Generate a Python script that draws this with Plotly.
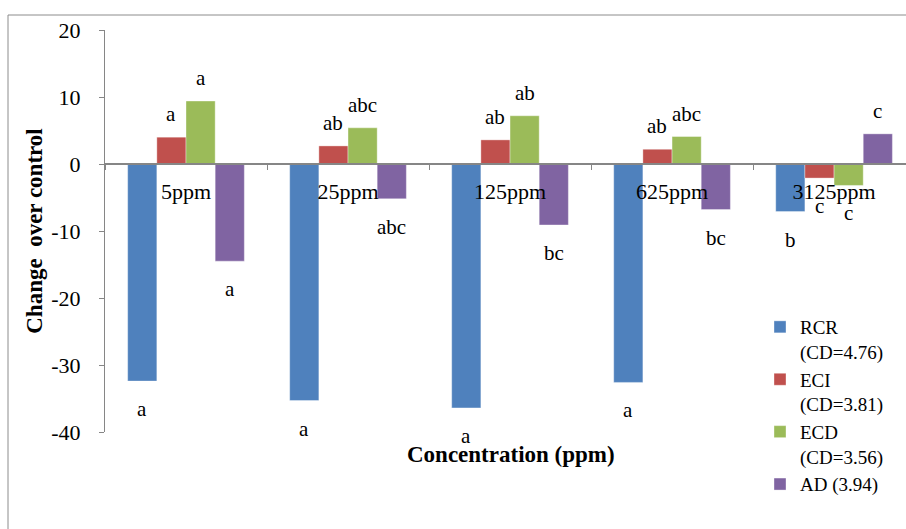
import plotly.graph_objects as go

# Concentrations tested
categories = ["5ppm", "25ppm", "125ppm", "625ppm", "3125ppm"]

# Change over control for each parameter
rcr = [-32.4, -35.3, -36.4, -32.6, -7.1]
eci = [4.0, 2.7, 3.6, 2.2, -2.1]
ecd = [9.4, 5.4, 7.2, 4.1, -3.2]
ad = [-14.5, -5.2, -9.1, -6.8, 4.5]

# Significance letters (DMRT groups)
rcr_letters = ["a", "a", "a", "a", "b"]
eci_letters = ["a", "ab", "ab", "ab", "c"]
ecd_letters = ["a", "abc", "ab", "abc", "c"]
ad_letters = ["a", "abc", "bc", "bc", "c"]

# Y axis ticks (plain hyphen minus)
y_tickvals = [20, 10, 0, -10, -20, -30, -40]
y_ticktext = ["20", "10", "0", "-10", "-20", "-30", "-40"]

series_names = ["RCR<br>(CD=4.76)", "ECI<br>(CD=3.81)", "ECD<br>(CD=3.56)", "AD (3.94)"]
series_values = [rcr, eci, ecd, ad]
series_letters = [rcr_letters, eci_letters, ecd_letters, ad_letters]
colors = ["#4F81BD", "#C0504D", "#9BBB59", "#8064A2"]

FONT = "Liberation Serif, Times New Roman, serif"
BAR_GAP = 0.28
bar_w = (1 - BAR_GAP) / len(series_values)

fig = go.Figure()
for name, vals, col in zip(series_names, series_values, colors):
    fig.add_trace(go.Bar(
        x=categories, y=vals, name=name,
        marker=dict(color=col, line=dict(color="rgba(255,255,255,0.6)", width=0.6)),
    ))

# Letters above positive bars and below negative bars
annotations = []
for j, (vals, letters) in enumerate(zip(series_values, series_letters)):
    for i, (v, t) in enumerate(zip(vals, letters)):
        annotations.append(dict(
            x=i + (j - 1.5) * bar_w, y=v, xref="x", yref="y",
            text=t, showarrow=False, yanchor="middle",
            yshift=23 if v >= 0 else -28,
            font=dict(family=FONT, size=21, color="black"),
        ))

annotations.append(dict(
    x=(511 - 105) / 801, y=(432 - 454) / 402, xref="paper", yref="paper",
    text="<b>Concentration (ppm)</b>", showarrow=False,
    xanchor="center", yanchor="middle",
    font=dict(family=FONT, size=23, color="black"),
))

fig.update_layout(
    width=906, height=529,
    margin=dict(l=105, r=0, t=30, b=97),
    paper_bgcolor="white", plot_bgcolor="white",
    barmode="group", bargap=BAR_GAP, bargroupgap=0,
    font=dict(family=FONT, size=21, color="black"),
    annotations=annotations,
    xaxis=dict(
        type="category", range=[-0.5, 4.444],
        anchor="free", position=2 / 3,
        showline=True, linecolor="#868686", linewidth=1.5,
        ticks="outside", tickson="boundaries", ticklen=5, tickcolor="#868686",
        ticklabelstandoff=8,
        showgrid=False, zeroline=False,
        tickfont=dict(family=FONT, size=22, color="black"),
    ),
    yaxis=dict(
        range=[-40, 20], tickvals=y_tickvals, ticktext=y_ticktext,
        showline=True, linecolor="#868686", linewidth=1,
        ticks="outside", ticklen=5, tickcolor="#868686",
        ticklabelstandoff=14,
        showgrid=False, zeroline=False,
        tickfont=dict(family=FONT, size=22, color="black"),
        title=dict(text="<b>Change\u00a0 over control</b>", standoff=2,
                   font=dict(family=FONT, size=23, color="black")),
    ),
    legend=dict(
        x=(760 - 105) / 801, y=(432 - 308) / 402,
        xanchor="left", yanchor="top",
        valign="top", tracegroupgap=0,
        font=dict(family=FONT, size=19, color="black"),
        bgcolor="rgba(0,0,0,0)",
    ),
    showlegend=True,
    shapes=[dict(
        type="rect", xref="paper", yref="paper",
        x0=(8 - 105) / 801, x1=(920 - 105) / 801,
        y0=(432 - 545) / 402, y1=(432 - 15) / 402,
        line=dict(color="#8c8c8c", width=1), fillcolor="rgba(0,0,0,0)",
        layer="below",
    )],
)

fig.write_html("out.html")
